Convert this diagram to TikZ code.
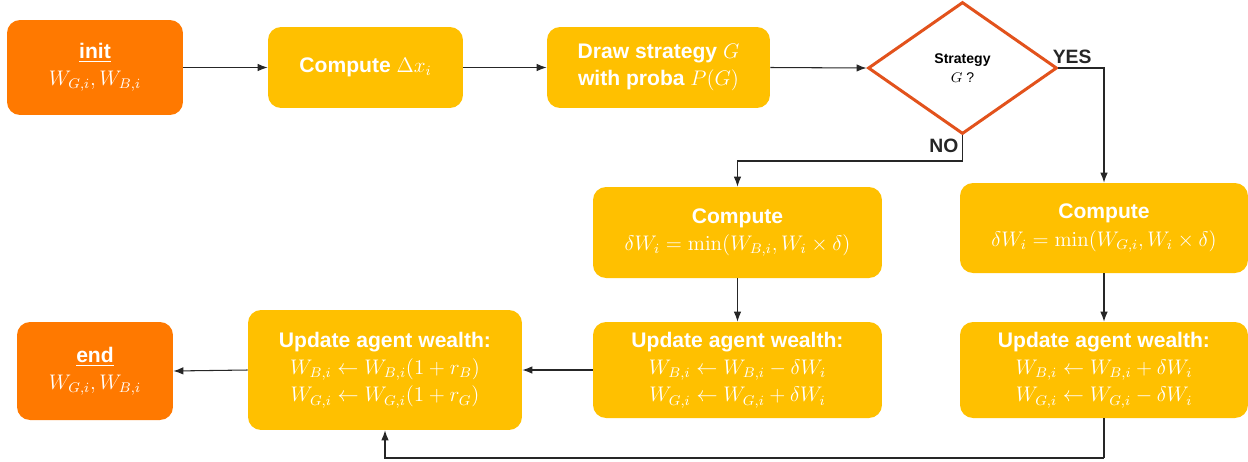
\documentclass[tikz,border=0pt]{standalone}
\usepackage{amsmath,amssymb}
\usepackage[no-math]{fontspec}
\setmainfont{Liberation Sans}
\usepackage{xcolor}
\usetikzlibrary{arrows.meta, shapes.geometric}
\definecolor{flowgold}{RGB}{255, 192, 0}
\definecolor{floworange}{RGB}{255, 121, 0}
\definecolor{flowred}{RGB}{226, 82, 28}

\begin{document}
\begin{tikzpicture}[x=0.02cm, y=-0.02cm, >=Latex,
    terminal/.style={
        fill=floworange, rounded corners=0.26cm, text=white,
        font=\fontsize{12}{15.5}\selectfont\bfseries, align=center,
        inner sep=0pt
    },
    process/.style={
        fill=flowgold, rounded corners=0.26cm, text=white,
        font=\fontsize{12}{15.5}\selectfont\bfseries, align=center,
        inner sep=0pt
    },
    decision/.style={
        diamond, draw=flowred, line width=1.7pt, fill=white,
        minimum width=3.78cm, minimum height=2.64cm, inner sep=0pt,
        font=\fontsize{8}{10}\selectfont\bfseries, align=center
    },
    signal/.style={->, line width=0.6pt, black!85},
    wire/.style={-, line width=0.6pt, black!85},
    blab/.style={font=\fontsize{11}{13}\selectfont\bfseries, inner sep=2pt},
]
\useasboundingbox (0,0) rectangle (1248,461);

% ================= top row =================
\node[terminal, minimum width=3.52cm, minimum height=1.9cm] (init) at (95,67.5)
    {\underline{init}\\ $W_{G,i},W_{B,i}$};
\node[process, minimum width=3.9cm, minimum height=1.62cm] (dx) at (365.5,67.5)
    {Compute $\Delta x_i$};
\node[process, minimum width=4.46cm, minimum height=1.62cm] (draw) at (658.5,67.5)
    {Draw strategy $G$\\ with proba $P(G)$};
\node[decision] (dec) at (962.5,68) {Strategy\\[1pt] {\normalfont$G$ ?}};

% ================= branches =================
\node[process, minimum width=5.78cm, minimum height=1.82cm] (cL) at (737.5,232.5)
    {Compute\\ $\delta W_i=\min(W_{B,i},W_i\times\delta)$};
\node[process, minimum width=5.76cm, minimum height=1.8cm] (cR) at (1104,228)
    {Compute\\ $\delta W_i=\min(W_{G,i},W_i\times\delta)$};
\node[process, minimum width=5.78cm, minimum height=1.92cm] (uL) at (737.5,370)
    {Update agent wealth:\\ $W_{B,i}\leftarrow W_{B,i}-\delta W_i$\\ $W_{G,i}\leftarrow W_{G,i}+\delta W_i$};
\node[process, minimum width=5.76cm, minimum height=1.92cm] (uR) at (1104,370)
    {Update agent wealth:\\ $W_{B,i}\leftarrow W_{B,i}+\delta W_i$\\ $W_{G,i}\leftarrow W_{G,i}-\delta W_i$};

% ================= bottom row =================
\node[process, minimum width=5.48cm, minimum height=2.4cm] (uM) at (385,370)
    {Update agent wealth:\\ $W_{B,i}\leftarrow W_{B,i}(1+r_B)$\\ $W_{G,i}\leftarrow W_{G,i}(1+r_G)$};
\node[terminal, minimum width=3.12cm, minimum height=1.96cm] (end) at (95,371)
    {\underline{end}\\ $W_{G,i},W_{B,i}$};

% ================= connectors =================
\draw[signal] (init.east) -- (dx.west);
\draw[signal] (dx.east) -- (draw.west);
\draw[signal] (draw.east) -- (dec.west);

\draw[signal] (dec.east) -| (cR.north)
    node[blab, pos=0.15, above] {YES};
\coordinate (nobend) at (962.5,161);
\draw[wire] (dec.south) -- (nobend)
    node[blab, pos=0.4, left] {NO};
\draw[signal] (nobend) -| (cL.north);

\draw[signal] (cL.south) -- (uL.north);
\draw[signal] (cR.south) -- (uR.north);
\draw[signal] (uL.west) -- (uM.east);
\draw[signal] (uM.west) -- (end.east);

\coordinate (loop) at (1104,458);
\draw[wire] (uR.south) -- (loop);
\draw[signal] (loop) -| (uM.south);

\end{tikzpicture}
\end{document}
